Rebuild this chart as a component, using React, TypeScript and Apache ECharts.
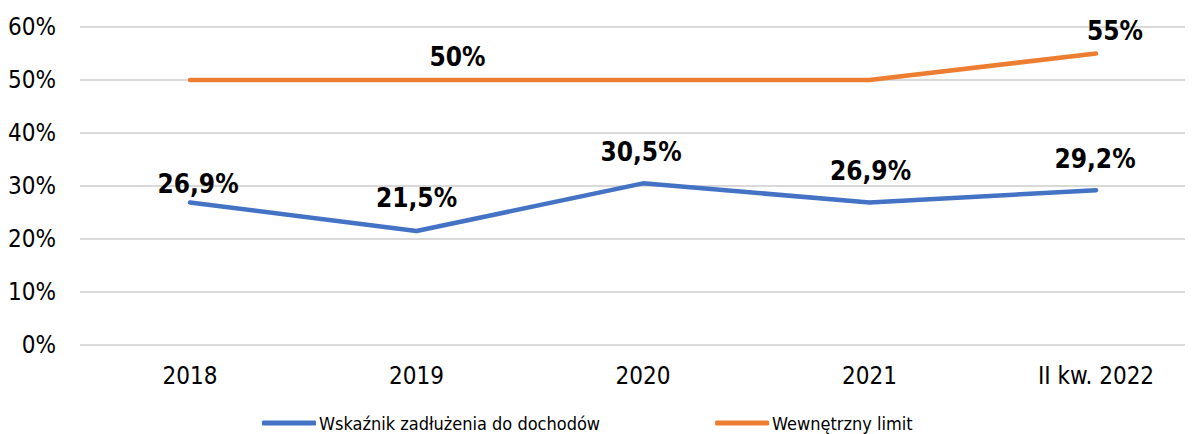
import React, { useEffect, useRef } from "react";
import * as echarts from "echarts";

const categories = ["2018", "2019", "2020", "2021", "II kw. 2022"];
const debtRatio = [26.9, 21.5, 30.5, 26.9, 29.2];
const internalLimit = [50, 50, 50, 50, 55];
const debtLabels = ["26,9%", "21,5%", "30,5%", "26,9%", "29,2%"];
const limitLabels = ["", "50%", "", "", "55%"];
const yTicks = [0, 10, 20, 30, 40, 50, 60];

const debtOffsets = [[8, -18], [0, -33], [-2, -31], [1, -31], [-1, -31]];
const limitOffsets = [[0, 0], [41, -23], [0, 0], [0, 0], [19, -22]];

const FONT = "'DejaVu Sans Condensed', 'DejaVu Sans', sans-serif";

export default function App() {
  const ref = useRef<HTMLDivElement>(null);
  useEffect(() => {
    if (!ref.current) return;
    const chart = echarts.init(ref.current, undefined, { renderer: "svg" });
    const labelStyle = {
      fontFamily: FONT,
      fontSize: 26,
      fontWeight: "bold" as const,
      color: "#000",
    };
    chart.setOption({
      animation: false,
      backgroundColor: "#fff",
      grid: [
        { left: 80, right: 9, top: 27, bottom: 89 },
        { left: 190, right: 98, top: 27, bottom: 89 },
      ],
      legend: {
        left: 262,
        top: 412,
        padding: 0,
        itemWidth: 54,
        itemHeight: 5,
        itemGap: 115,
        icon: "roundRect",
        textStyle: { fontFamily: FONT, fontSize: 18, color: "#000", padding: [0, 0, 0, -2], lineHeight: 22 },
        data: ["Wskaźnik zadłużenia do dochodów", "Wewnętrzny limit"],
      },
      xAxis: [
        {
          gridIndex: 0,
          type: "category",
          data: categories,
          show: false,
        },
        {
          gridIndex: 1,
          type: "category",
          data: categories,
          boundaryGap: false,
          axisLine: { show: false },
          axisTick: { show: false },
          axisLabel: { fontFamily: FONT, fontSize: 24, color: "#000", margin: 19 },
        },
      ],
      yAxis: [
        {
          gridIndex: 0,
          type: "value",
          min: yTicks[0],
          max: yTicks[yTicks.length - 1],
          interval: 10,
          axisLine: { show: false },
          axisTick: { show: false },
          splitLine: { lineStyle: { color: "#d9d9d9", width: 2 } },
          axisLabel: {
            fontFamily: FONT,
            fontSize: 24,
            color: "#000",
            margin: 24,
            formatter: (v: number) => `${v}%`,
          },
        },
        {
          gridIndex: 1,
          type: "value",
          min: yTicks[0],
          max: yTicks[yTicks.length - 1],
          interval: 10,
          show: false,
        },
      ],
      series: [
        {
          name: "Wskaźnik zadłużenia do dochodów",
          type: "line",
          xAxisIndex: 1,
          yAxisIndex: 1,
          color: "#4472C4",
          symbol: "circle",
          symbolSize: 0.1,
          showSymbol: true,
          lineStyle: { width: 4.5, color: "#4472C4", cap: "round", join: "round" },
          itemStyle: { color: "#4472C4" },
          data: debtRatio.map((v, i) => ({
            value: v,
            label: {
              show: true,
              position: "top",
              distance: 0,
              verticalAlign: "middle",
              offset: debtOffsets[i],
              formatter: () => debtLabels[i],
              ...labelStyle,
            },
          })),
          z: 3,
        },
        {
          name: "Wewnętrzny limit",
          type: "line",
          xAxisIndex: 1,
          yAxisIndex: 1,
          color: "#ED7D31",
          symbol: "circle",
          symbolSize: 0.1,
          showSymbol: true,
          lineStyle: { width: 4.5, color: "#ED7D31", cap: "round", join: "round" },
          itemStyle: { color: "#ED7D31" },
          data: internalLimit.map((v, i) => ({
            value: v,
            label: {
              show: limitLabels[i] !== "",
              position: "top",
              distance: 0,
              verticalAlign: "middle",
              offset: limitOffsets[i],
              formatter: () => limitLabels[i],
              ...labelStyle,
            },
          })),
          z: 3,
        },
      ],
    });
    return () => chart.dispose();
  }, []);
  return <div ref={ref} style={{ width: 1194, height: 434, position: "absolute", left: 0, top: 0 }} />;
}
